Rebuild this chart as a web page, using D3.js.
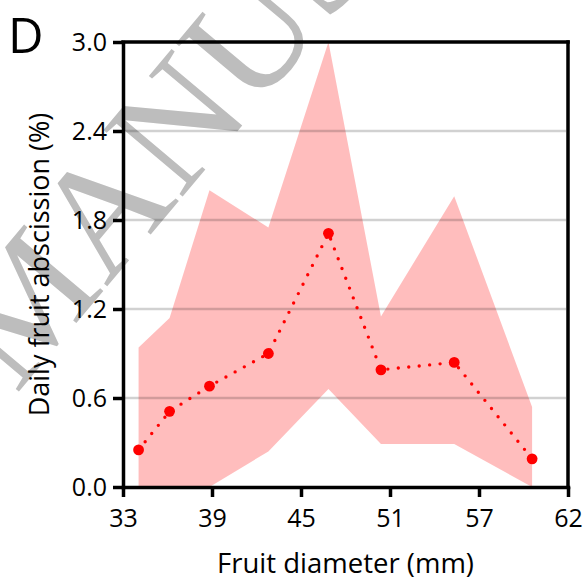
<!DOCTYPE html>
<html>
<head>
<meta charset="utf-8">
<script src="https://cdn.jsdelivr.net/npm/d3@7"></script>
<style>
  html, body { margin: 0; padding: 0; background: #fff; }
  svg { display: block; }
</style>
</head>
<body>
<svg id="chart" width="587" height="584"></svg>
<script>
// Fruit diameter classes (mm) and daily abscission (%)
const diameter = [34.05, 36.14, 38.83, 42.8, 46.85, 50.39, 55.33, 60.58];
const meanAbscission = [0.25, 0.51, 0.68, 0.90, 1.71, 0.79, 0.84, 0.19];
const upperBound = [0.94, 1.14, 2.00, 1.75, 3.00, 1.15, 1.96, 0.54];
const lowerBound = [0.00, 0.00, 0.00, 0.24, 0.66, 0.29, 0.29, 0.00];

const xTickValues = [33, 39, 45, 51, 57, 63];
const xTickLabels = ["33", "39", "45", "51", "57", "62"];
const yTickValues = [0, 0.6, 1.2, 1.8, 2.4, 3.0];

const svg = d3.select("#chart");
const W = 587, H = 584;
const m = { left: 123, right: 19, top: 42, bottom: 97 };

const x = d3.scaleLinear().domain([33, 63]).range([m.left, W - m.right]);
const y = d3.scaleLinear().domain([0, 3]).range([H - m.bottom, m.top]);

const labelFont = "'Open Sans', Lato, sans-serif";

// watermark behind everything
const wm = svg.append("g")
  .attr("transform", "translate(16,395) rotate(-50)")
  .attr("fill", "#bdbdbd")
  .style("font-family", "'Liberation Serif', 'Times New Roman', serif")
  .style("font-size", "158px");
wm.append("text").attr("text-anchor", "end").text("ACCEPTED ");
wm.append("text").attr("text-anchor", "start").text("MANUSCRIPT");

// uncertainty band
const band = d3.area()
  .x((d, i) => x(diameter[i]))
  .y0((d, i) => y(lowerBound[i]))
  .y1((d, i) => y(upperBound[i]));
svg.append("path")
  .datum(diameter)
  .attr("d", band)
  .attr("fill", "#ff0000")
  .attr("fill-opacity", 0.26);

// horizontal grid
svg.append("g")
  .selectAll("line")
  .data(yTickValues.filter(v => v > 0 && v < 3))
  .join("line")
  .attr("x1", x(33) + 2).attr("x2", x(63) - 2)
  .attr("y1", d => y(d)).attr("y2", d => y(d))
  .attr("stroke", "#000")
  .attr("stroke-opacity", 0.18)
  .attr("stroke-width", 2.5);

// dotted connecting line
const line = d3.line()
  .x((d, i) => x(diameter[i]))
  .y((d, i) => y(meanAbscission[i]));
svg.append("path")
  .datum(diameter)
  .attr("d", line)
  .attr("fill", "none")
  .attr("stroke", "#ff0000")
  .attr("stroke-width", 3.4)
  .attr("stroke-linecap", "round")
  .attr("stroke-dasharray", "0 10.5");

// markers
svg.append("g")
  .selectAll("circle")
  .data(diameter)
  .join("circle")
  .attr("cx", (d, i) => x(d))
  .attr("cy", (d, i) => y(meanAbscission[i]))
  .attr("r", 5.4)
  .attr("fill", "#ff0000");

// frame: top and right edges
svg.append("line")
  .attr("x1", x(33)).attr("x2", x(63))
  .attr("y1", y(3)).attr("y2", y(3))
  .attr("stroke", "#000").attr("stroke-width", 3.5).attr("stroke-linecap", "square");
svg.append("line")
  .attr("x1", x(63)).attr("x2", x(63))
  .attr("y1", y(3)).attr("y2", y(0))
  .attr("stroke", "#000").attr("stroke-width", 3.5).attr("stroke-linecap", "square");

// axes
const xAxis = d3.axisBottom(x)
  .tickValues(xTickValues)
  .tickFormat((d, i) => xTickLabels[i])
  .tickSize(10).tickSizeOuter(0).tickPadding(12);
const gx = svg.append("g")
  .attr("transform", `translate(0,${y(0)})`)
  .call(xAxis);

const yAxis = d3.axisLeft(y)
  .tickValues(yTickValues)
  .tickFormat(d3.format(".1f"))
  .tickSize(10).tickSizeOuter(0).tickPadding(6);
const gy = svg.append("g")
  .attr("transform", `translate(${x(33)},0)`)
  .call(yAxis);

[gx, gy].forEach(g => {
  g.select(".domain").attr("stroke", "#000").attr("stroke-width", 3.5).attr("stroke-linecap", "square");
  g.selectAll(".tick line").attr("stroke", "#000").attr("stroke-width", 3.5);
  g.selectAll(".tick text")
    .attr("fill", "#000")
    .style("font-family", labelFont)
    .style("font-size", "25px");
});
gx.selectAll(".tick text").attr("dy", "0.71em");

// axis titles
svg.append("text")
  .attr("x", (x(33) + x(63)) / 2)
  .attr("y", 573)
  .attr("text-anchor", "middle")
  .style("font-family", labelFont)
  .style("font-size", "27.5px")
  .text("Fruit diameter (mm)");

svg.append("text")
  .attr("transform", `translate(49,${(y(0) + y(3)) / 2}) rotate(-90)`)
  .attr("text-anchor", "middle")
  .style("font-family", labelFont)
  .style("font-size", "27px")
  .text("Daily fruit abscission (%)");

// panel letter
svg.append("text")
  .attr("x", 8)
  .attr("y", 53)
  .style("font-family", labelFont)
  .style("font-size", "49px")
  .text("D");
</script>
</body>
</html>
